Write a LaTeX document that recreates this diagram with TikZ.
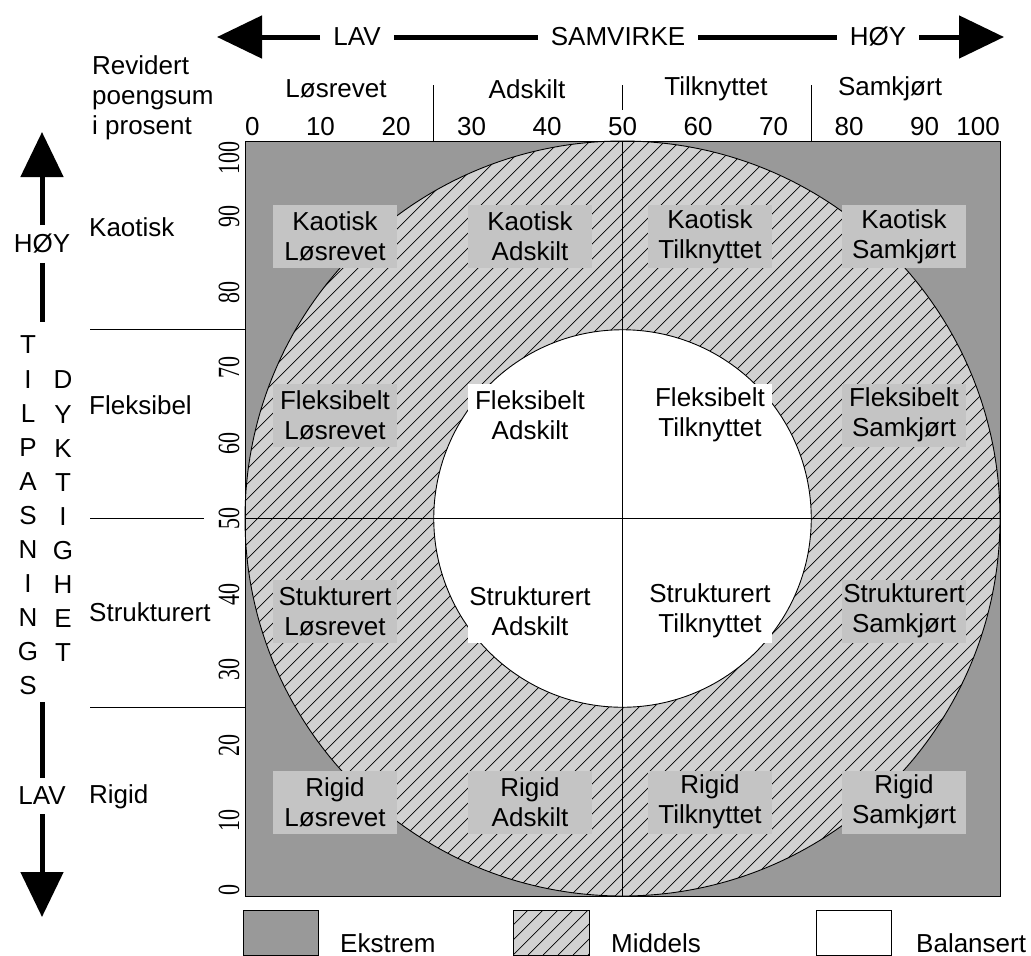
\documentclass[tikz,border=0pt]{standalone}
\usepackage{fontspec}
\setmainfont{Liberation Sans}
\newfontfamily\numfont{Liberation Serif}
\usetikzlibrary{arrows.meta}

\definecolor{ekstrem}{gray}{0.6}
\definecolor{middels}{gray}{0.82}
\definecolor{cellgray}{gray}{0.77}

\tikzset{
  lbl/.style={font=\fontsize{26}{30}\selectfont, inner sep=0pt},
  cell/.style={lbl, align=center, minimum width=124pt, minimum height=63pt, fill=cellgray},
  balcell/.style={cell, fill=white},
  shaft/.style={line width=5pt},
  bigarrow/.style={shaft, -{Triangle[length=45pt,width=42pt]}},
  vnum/.style={font=\numfont\fontsize{22}{22}\selectfont, rotate=90, inner sep=0pt},
  sepline/.style={line width=0.9pt},
  hatchline/.style={line width=0.7pt}
}

\begin{document}
\begin{tikzpicture}[x=1pt, y=-1pt]
  \useasboundingbox (0,0) rectangle (1031,956);

  % square with the two rings
  \coordinate (c) at (622.5,518.5);
  \fill[ekstrem] (245,141) rectangle (1000,896);
  \fill[middels] (c) circle[radius=377.5pt];
  \begin{scope}
    \clip (c) circle[radius=377.5pt];
    \foreach \a in {-510,-495,...,1000}
      \draw[hatchline] (\a,896) -- +(755,-755);
  \end{scope}
  \fill[white] (c) circle[radius=188.75pt];
  \draw[sepline] (c) circle[radius=377.5pt];
  \draw[sepline] (c) circle[radius=188.75pt];
  \draw[sepline] (622.5,141) -- (622.5,896);
  \draw[sepline] (245,518.5) -- (1000,518.5);
  \draw[sepline] (245,141) rectangle (1000,896);

  % separators outside the square
  \draw[sepline] (433.75,85) -- (433.75,141);
  \draw[sepline] (622.5,85) -- (622.5,110);
  \draw[sepline] (811.25,85) -- (811.25,141);
  \draw[sepline] (90,329.75) -- (245,329.75);
  \draw[sepline] (90,518.5) -- (204,518.5);
  \draw[sepline] (90,707.25) -- (245,707.25);

  % scales
  \node[lbl, anchor=west] (x0) at (245,127) {0};
  \foreach \v in {10,20,...,90}
    \node[lbl] (x\v) at ({245+7.55*\v},127) {\v};
  \node[lbl, anchor=east] (x100) at (1000,127) {100};
  \node[vnum, anchor=west] (y0) at (229,896) {\scalebox{1}[1.4]{0}};
  \foreach \v in {10,20,...,90}
    \node[vnum] (y\v) at (229,{896-7.55*\v}) {\scalebox{1}[1.4]{\v}};
  \node[vnum, anchor=east] (y100) at (229,141) {\scalebox{1}[1.4]{100}};

  % column and row headings
  \node[lbl] (losrevet) at (336,89) {Løsrevet};
  \node[lbl] (adskilt) at (527,89) {Adskilt};
  \node[lbl] (tilknyttet) at (716,89) {Tilknyttet};
  \node[lbl] (samkjort) at (890,89) {Samkjørt};
  \node[lbl, anchor=west, align=left] (revidert) at (92,98) {Revidert\\poengsum\\i prosent};
  \node[lbl, anchor=west] (kaotisk) at (89,227) {Kaotisk};
  \node[lbl, anchor=west] (fleksibel) at (89,405) {Fleksibel};
  \node[lbl, anchor=west] (strukturert) at (89,612) {Strukturert};
  \node[lbl, anchor=west] (rigid) at (89,797) {Rigid};

  % cells
  \node[cell] (kaoLos) at (335,236.5) {Kaotisk\\Løsrevet};
  \node[cell] (kaoAds) at (530,236.5) {Kaotisk\\Adskilt};
  \node[cell] (kaoTil) at (710,236.5) {Kaotisk\\Tilknyttet};
  \node[cell] (kaoSam) at (904,236.5) {Kaotisk\\Samkjørt};
  \node[cell] (fleLos) at (335,415) {Fleksibelt\\Løsrevet};
  \node[balcell] (fleAds) at (530,415) {Fleksibelt\\Adskilt};
  \node[balcell] (fleTil) at (710,415) {Fleksibelt\\Tilknyttet};
  \node[cell] (fleSam) at (904,415) {Fleksibelt\\Samkjørt};
  \node[cell] (strLos) at (335,611) {Stukturert\\Løsrevet};
  \node[balcell] (strAds) at (530,611) {Strukturert\\Adskilt};
  \node[balcell] (strTil) at (710,611) {Strukturert\\Tilknyttet};
  \node[cell] (strSam) at (904,611) {Strukturert\\Samkjørt};
  \node[cell] (rigLos) at (335,802) {Rigid\\Løsrevet};
  \node[cell] (rigAds) at (530,802) {Rigid\\Adskilt};
  \node[cell] (rigTil) at (710,802) {Rigid\\Tilknyttet};
  \node[cell] (rigSam) at (904,802) {Rigid\\Samkjørt};

  % samvirke arrow
  \coordinate (hl) at (217,37);
  \coordinate (hr) at (1004,37);
  \node[lbl, inner xsep=13pt] (lavh) at (357,37) {LAV};
  \node[lbl, inner xsep=13pt] (samv) at (618,37) {SAMVIRKE};
  \node[lbl, inner xsep=13pt] (hoyh) at (878,37) {HØY};
  \draw[bigarrow] (lavh.west) -- (hl);
  \draw[shaft] (lavh.east) -- (samv.west);
  \draw[shaft] (samv.east) -- (hoyh.west);
  \draw[bigarrow] (hoyh.east) -- (hr);

  % tilpasningsdyktighet arrow
  \coordinate (vt) at (42,132);
  \coordinate (vtend) at (42,322);
  \coordinate (vbstart) at (42,702);
  \coordinate (vb) at (42,917);
  \node[lbl, inner ysep=9pt] (hoyv) at (42,244) {HØY};
  \node[lbl, inner ysep=9pt] (lavv) at (42,796) {LAV};
  \draw[bigarrow] (hoyv.north) -- (vt);
  \draw[shaft] (hoyv.south) -- (vtend);
  \draw[shaft] (vbstart) -- (lavv.north);
  \draw[bigarrow] (lavv.south) -- (vb);
  \foreach \ch [count=\i from 0] in {T,I,L,P,A,S,N,I,N,G,S}
    \node[lbl] (tl\i) at (28,{345+34.1*\i}) {\ch};
  \foreach \ch [count=\i from 0] in {D,Y,K,T,I,G,H,E,T}
    \node[lbl] (dy\i) at (63,{380+34.1*\i}) {\ch};

  % legend
  \fill[ekstrem] (243,910) rectangle (318,955);
  \draw[sepline] (243,910) rectangle (318,955);
  \fill[middels] (513,910) rectangle (589,955);
  \begin{scope}
    \clip (513,910) rectangle (589,955);
    \foreach \a in {468,483,...,590}
      \draw[hatchline] (\a,955) -- +(45,-45);
  \end{scope}
  \draw[sepline] (513,910) rectangle (589,955);
  \draw[sepline] (816,910) rectangle (891,955);
  \node[lbl, anchor=west] (ekstremtxt) at (340,943) {Ekstrem};
  \node[lbl, anchor=west] (middelstxt) at (611,943) {Middels};
  \node[lbl, anchor=west] (balansert) at (916,943) {Balansert};
\end{tikzpicture}
\end{document}
